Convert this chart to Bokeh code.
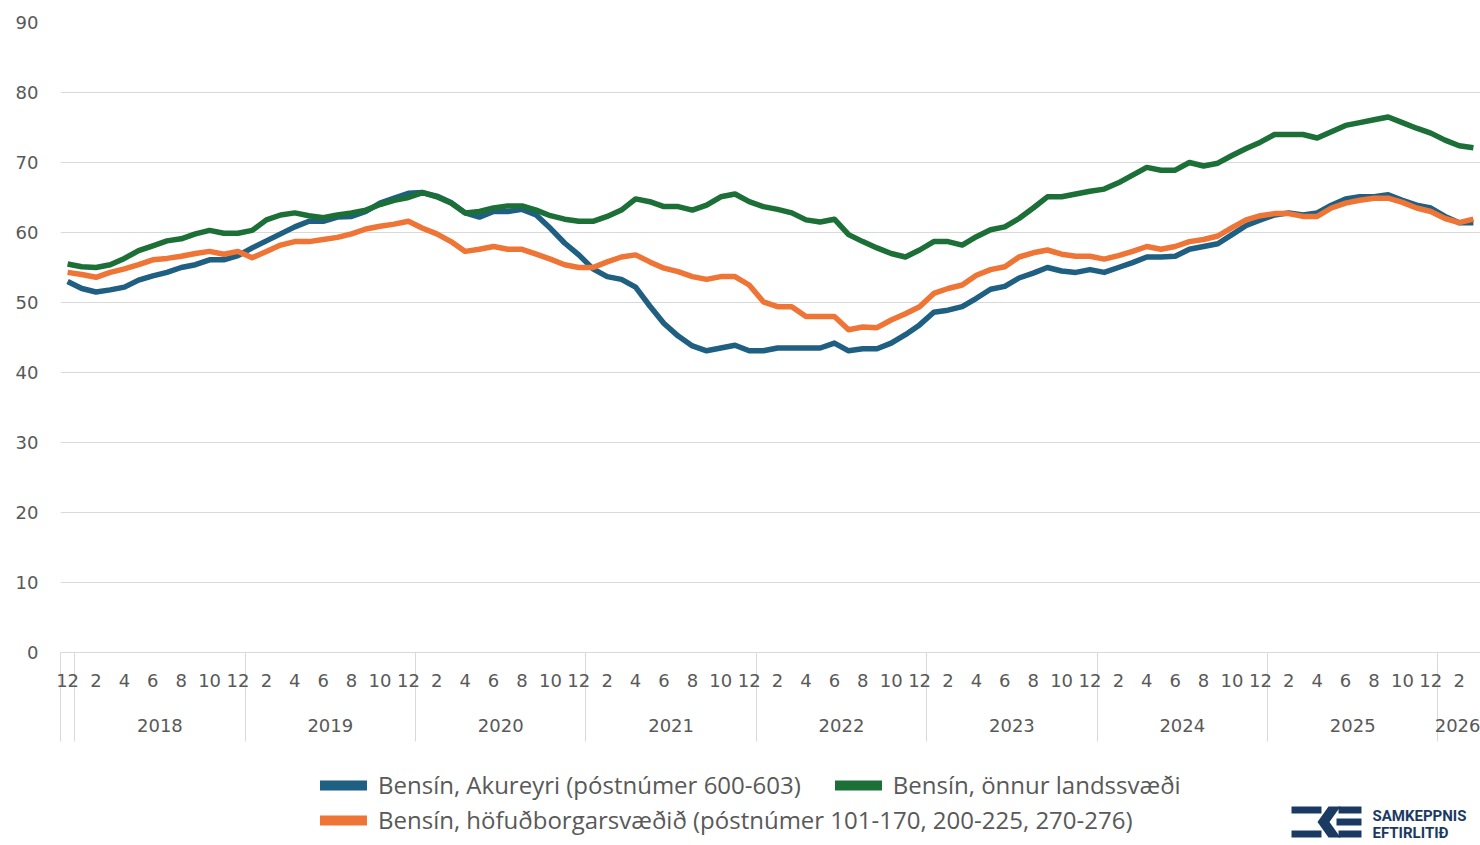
from bokeh.plotting import figure
from bokeh.layouts import column
from bokeh.models import (FixedTicker, LinearAxis, Range1d, Legend, LegendItem, Label)
from bokeh.embed import file_html
from bokeh.resources import INLINE

# ---------------- data (monthly, Dec 2017 .. Mar 2026) ----------------
akureyri = [53.0, 52.0, 51.5, 51.8, 52.2, 53.2, 53.8, 54.3, 55.0, 55.4, 56.1, 56.1,
            56.7, 57.8, 58.8, 59.8, 60.8, 61.6, 61.6, 62.2, 62.3, 63.0, 64.2, 64.9,
            65.6, 65.7, 65.2, 64.3, 62.8, 62.2, 63.0, 63.0, 63.3, 62.5, 60.6, 58.5,
            56.8, 54.8, 53.7, 53.3, 52.2, 49.5, 47.0, 45.2, 43.8, 43.1, 43.5, 43.9,
            43.1, 43.1, 43.5, 43.5, 43.5, 43.5, 44.2, 43.1, 43.4, 43.4, 44.2, 45.4,
            46.8, 48.6, 48.9, 49.4, 50.6, 51.9, 52.3, 53.5, 54.2, 55.0, 54.5, 54.3,
            54.7, 54.3, 55.0, 55.7, 56.5, 56.5, 56.6, 57.6, 58.0, 58.4, 59.7, 61.0,
            61.8, 62.5, 62.8, 62.5, 62.8, 63.9, 64.8, 65.1, 65.1, 65.4, 64.6, 63.9,
            63.5, 62.3, 61.4, 61.4]

hofudborg = [54.3, 54.0, 53.6, 54.3, 54.8, 55.4, 56.1, 56.3, 56.6, 57.0, 57.3, 56.9,
             57.3, 56.4, 57.3, 58.2, 58.7, 58.7, 59.0, 59.3, 59.8, 60.5, 60.9, 61.2,
             61.6, 60.6, 59.8, 58.7, 57.3, 57.6, 58.0, 57.6, 57.6, 56.9, 56.2, 55.4,
             55.0, 55.0, 55.8, 56.5, 56.8, 55.8, 54.9, 54.4, 53.7, 53.3, 53.7, 53.7,
             52.5, 50.1, 49.4, 49.4, 48.0, 48.0, 48.0, 46.1, 46.5, 46.4, 47.5, 48.4,
             49.4, 51.3, 52.0, 52.5, 53.9, 54.7, 55.1, 56.5, 57.1, 57.5, 56.9, 56.6,
             56.6, 56.2, 56.7, 57.3, 58.0, 57.6, 58.0, 58.7, 59.0, 59.5, 60.7, 61.8,
             62.4, 62.7, 62.7, 62.3, 62.3, 63.5, 64.2, 64.6, 64.9, 64.9, 64.3, 63.5,
             63.0, 62.0, 61.4, 61.9]

onnur = [55.5, 55.1, 55.0, 55.4, 56.3, 57.4, 58.1, 58.8, 59.1, 59.8, 60.3, 59.9,
         59.9, 60.3, 61.8, 62.5, 62.8, 62.4, 62.1, 62.5, 62.8, 63.2, 64.0, 64.6,
         65.0, 65.7, 65.1, 64.2, 62.8, 63.0, 63.5, 63.8, 63.8, 63.2, 62.4, 61.9,
         61.6, 61.6, 62.3, 63.2, 64.8, 64.4, 63.7, 63.7, 63.2, 63.9, 65.1, 65.5,
         64.4, 63.7, 63.3, 62.8, 61.8, 61.5, 61.9, 59.7, 58.7, 57.8, 57.0, 56.5,
         57.5, 58.7, 58.7, 58.2, 59.4, 60.4, 60.8, 62.0, 63.5, 65.1, 65.1, 65.5,
         65.9, 66.2, 67.1, 68.2, 69.3, 68.9, 68.9, 70.0, 69.5, 69.9, 71.0, 72.0,
         72.9, 74.0, 74.0, 74.0, 73.5, 74.4, 75.3, 75.7, 76.1, 76.5, 75.7, 74.9,
         74.2, 73.2, 72.4, 72.1]

series_names = ["Bensín, Akureyri (póstnúmer 600-603)",
                "Bensín, höfuðborgarsvæðið (póstnúmer 101-170, 200-225, 270-276)",
                "Bensín, önnur landssvæði"]

month_labels = (["12", "2", "4", "6", "8", "10"] * 9)[:50]
year_labels = ["2018", "2019", "2020", "2021", "2022", "2023", "2024", "2025", "2026"]
y_ticks = [0, 10, 20, 30, 40, 50, 60, 70, 80, 90]

# ---------------- styling ----------------
BLUE = "#1F5F82"
ORANGE = "#EE7535"
GREEN = "#1C6F37"
TXT = "#595959"
GRID = "#D9D9D9"
NAVY = "#1B3A63"
AX_FONT = "DejaVu Sans"

W = 1480
H_MAIN = 745
H_LEG = 100
LEFT = 60

n = len(akureyri)
x = list(range(n))

month_ticks = list(range(0, n, 2))
year_bounds = [-0.5, 0.5] + [0.5 + 12 * k for k in range(1, 9)]
year_centers = [6.5 + 12 * k for k in range(8)] + [(96.5 + n - 0.5) / 2]

p = figure(width=W, height=H_MAIN, output_backend="svg", toolbar_location=None,
           x_range=Range1d(-0.5, n - 0.5), y_range=Range1d(0, 90),
           x_axis_location=None,
           min_border_left=LEFT, min_border_right=0, min_border_top=22,
           min_border_bottom=H_MAIN - 652)
p.outline_line_color = None

# y axis
yax = p.yaxis[0]
yax.ticker = FixedTicker(ticks=y_ticks, minor_ticks=[])
yax.axis_line_color = None
yax.major_tick_line_color = None
yax.minor_tick_line_color = None
yax.major_tick_out = 0
yax.major_tick_in = 0
yax.major_label_standoff = 22
yax.major_label_text_font = AX_FONT
yax.major_label_text_font_size = "18px"
yax.major_label_text_color = TXT
p.ygrid.grid_line_color = GRID
p.ygrid.grid_line_width = 1
for g in p.xgrid:
    g.visible = False

# month axis (long year separators drawn as minor ticks)
ax_m = LinearAxis(ticker=FixedTicker(ticks=month_ticks, minor_ticks=year_bounds),
                  major_label_overrides={t: l for t, l in zip(month_ticks, month_labels)})
ax_m.axis_line_color = GRID
ax_m.axis_line_width = 1
ax_m.major_tick_line_color = None
ax_m.major_tick_out = 0
ax_m.major_tick_in = 0
ax_m.minor_tick_out = 89
ax_m.minor_tick_in = 0
ax_m.minor_tick_line_color = GRID
ax_m.minor_tick_line_width = 1
ax_m.major_label_standoff = -68
ax_m.major_label_text_font = AX_FONT
ax_m.major_label_text_font_size = "18px"
ax_m.major_label_text_color = TXT
p.add_layout(ax_m, "below")

# year axis
ax_y = LinearAxis(ticker=FixedTicker(ticks=year_centers, minor_ticks=[]),
                  major_label_overrides={t: l for t, l in zip(year_centers, year_labels)})
ax_y.axis_line_color = None
ax_y.major_tick_line_color = None
ax_y.minor_tick_line_color = None
ax_y.major_tick_out = 0
ax_y.major_tick_in = 0
ax_y.major_label_standoff = 29
ax_y.major_label_text_font = AX_FONT
ax_y.major_label_text_font_size = "18px"
ax_y.major_label_text_color = TXT
p.add_layout(ax_y, "below")

# lines
p.line(x, akureyri, line_color=BLUE, line_width=5.5, line_join="round")
p.line(x, onnur, line_color=GREEN, line_width=5.5, line_join="round")
p.line(x, hofudborg, line_color=ORANGE, line_width=5.5, line_join="round")

# ---------------- legend + logo strip (coordinates = page pixels) ----------------
p2 = figure(width=W, height=H_LEG, output_backend="svg", toolbar_location=None,
            x_range=Range1d(LEFT, W), y_range=Range1d(0, H_LEG),
            x_axis_location=None, y_axis_location=None,
            min_border_left=LEFT, min_border_right=0, min_border_top=0, min_border_bottom=0)
p2.outline_line_color = None
p2.grid.visible = False

# legend-only renderers, kept outside the visible range
off_x = [-500, -400]
off_y = [-500, -500]
lb = p2.line(off_x, off_y, line_color=BLUE, line_width=10, line_cap="round")
lo = p2.line(off_x, off_y, line_color=ORANGE, line_width=10, line_cap="round")
lg = p2.line(off_x, off_y, line_color=GREEN, line_width=10, line_cap="round")


def make_legend(items, loc):
    return Legend(items=items, orientation="horizontal", location=loc,
                  glyph_width=47, glyph_height=20, label_height=20,
                  label_standoff=11, spacing=34, padding=0, margin=0,
                  border_line_color=None, background_fill_alpha=0,
                  label_text_font="Open Sans", label_text_font_size="24px",
                  label_text_color=TXT)


leg1 = make_legend([LegendItem(label=series_names[0], renderers=[lb]),
                    LegendItem(label=series_names[2], renderers=[lg])], (320 - LEFT, 44))
leg2 = make_legend([LegendItem(label=series_names[1], renderers=[lo])], (320 - LEFT, 9))
p2.add_layout(leg1)
p2.add_layout(leg2)


def ly(py):
    return H_MAIN + H_LEG - py


logo_shapes = [
    [(1291, 806), (1321, 806), (1321, 813), (1291, 813)],
    [(1291, 830), (1321, 830), (1321, 837), (1291, 837)],
    [(1328, 806), (1340, 806), (1329, 821.5), (1340, 837), (1328, 837), (1317, 821.5)],
    [(1338, 806), (1361, 806), (1361, 813), (1338, 813)],
    [(1336, 818), (1361, 818), (1361, 825), (1336, 825)],
    [(1338, 830), (1361, 830), (1361, 837), (1338, 837)],
]
p2.patches([[a for a, b in s] for s in logo_shapes],
           [[ly(b) for a, b in s] for s in logo_shapes],
           fill_color=NAVY, line_color=None)

p2.add_layout(Label(x=1372, y=ly(815), text="SAMKEPPNIS", text_font="Roboto",
                    text_font_style="bold", text_font_size="15px", text_color=NAVY,
                    text_baseline="middle"))
p2.add_layout(Label(x=1372, y=ly(832), text="EFTIRLITIÐ", text_font="Roboto",
                    text_font_style="bold", text_font_size="15px", text_color=NAVY,
                    text_baseline="middle"))

layout = column(p, p2, spacing=0)
open("out.html", "w").write(file_html(layout, INLINE))
